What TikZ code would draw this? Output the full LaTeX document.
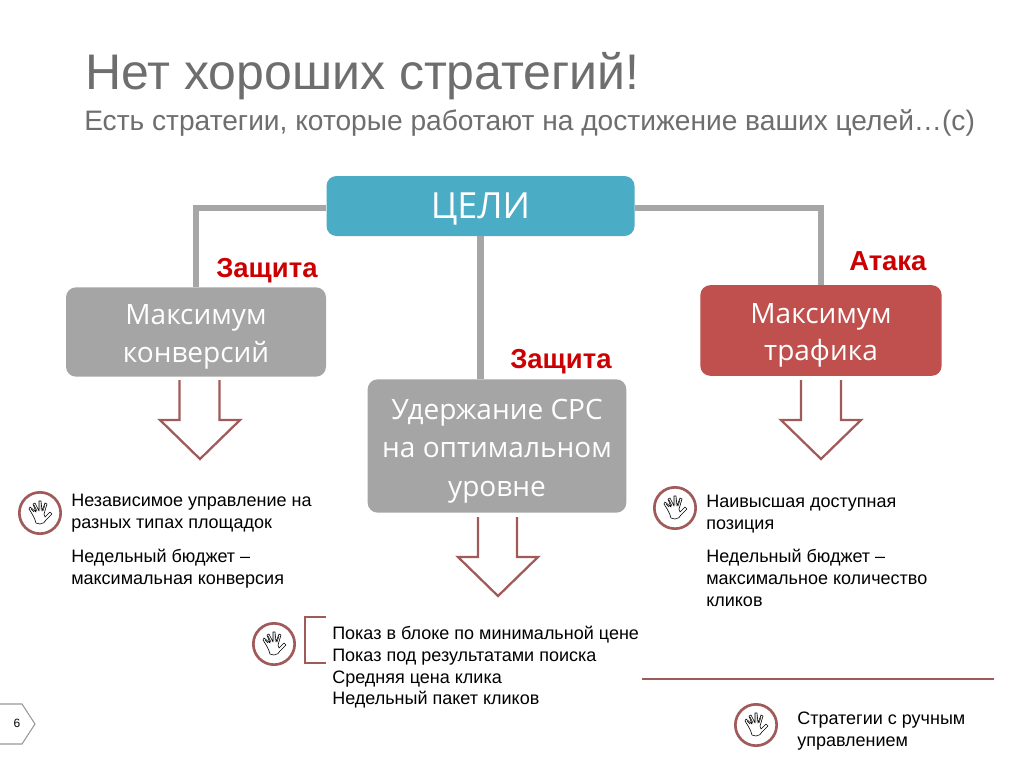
\documentclass[tikz,border=0pt]{standalone}
\usepackage{fontspec}
\setmainfont{Liberation Sans}
\newfontfamily\boxfont{Open Sans}
\definecolor{hd}{HTML}{6E6E6E}
\definecolor{blu}{HTML}{4BACC6}
\definecolor{redb}{HTML}{C0504D}
\definecolor{gry}{HTML}{A5A5A5}
\definecolor{lnk}{HTML}{A6A6A6}
\definecolor{mar}{HTML}{A05A5A}
\newcommand{\lowertext}[1]{\raisebox{-3pt}[\height][\depth]{\begin{tabular}{@{}c@{}}#1\end{tabular}}}
\tikzset{
 x=0.75pt,y=-0.75pt,
 goal/.style={rounded corners=7.5pt,inner sep=0,align=center,text=white,font=\boxfont\fontsize{21}{28}\selectfont},
 link/.style={draw=lnk,line width=5.2pt},
 tag/.style={text=red!80!black,font=\bfseries\fontsize{20.6}{24}\selectfont,inner sep=0},
 body/.style={anchor=north west,align=left,inner sep=0,font=\fontsize{13.5}{16.3}\selectfont,text=black},
 ring/.style={circle,draw=mar,line width=2pt,minimum size=31pt,inner sep=0,fill=white},
 downarrow/.style={draw=mar,line width=1.7pt,fill=white,line join=miter},
 pics/handicon/.style={code={
  \draw[black,line width=0.45pt,line join=round,line cap=round]
   (-4,10) .. controls (-5,6) and (-7,2) .. (-11,-4) -- (-10,-6) -- (-4,-1)
   -- (-7,-9) -- (-5,-10) -- (-1,-2) -- (-1,-12) -- (1,-12) -- (2,-2) -- (5,-10) -- (7,-9) -- (4,1)
   -- (5,4) -- (10,-1) -- (12,1) -- (6,7) .. controls (5,9) and (3,11) .. (0,11) -- cycle;
  \draw[black,line width=0.35pt,line cap=round] (-9,-4)--(-6,-1) (-6,-8)--(-3,-2) (0,-10)--(0,-3) (5,-8)--(3,-2);
 }}
}
\begin{document}
\begin{tikzpicture}
\useasboundingbox (0,0) rectangle (1024,768);
\fill[white] (0,0) rectangle (1024,768);
% titles
\node[anchor=west,inner sep=0,text=hd,font=\fontsize{37.5}{40}\selectfont] (title) at (85,76) {Нет хороших стратегий!};
\node[anchor=west,inner sep=0,text=hd,font=\fontsize{21.1}{24}\selectfont] (sub) at (84,123) {Есть стратегии, которые работают на достижение ваших целей…(с)};
% boxes
\node[goal,fill=blu,minimum width=231pt,minimum height=45pt] (goals) at (480.5,206) {\fontsize{27}{30}\selectfont\lowertext{ЦЕЛИ}};
\node[goal,fill=gry,minimum width=195pt,minimum height=67pt] (conv) at (196,332) {\lowertext{Максимум\\конверсий}};
\node[goal,fill=redb,minimum width=181pt,minimum height=68pt] (traf) at (821,330.5) {\lowertext{Максимум\\трафика}};
\node[goal,fill=gry,minimum width=194pt,minimum height=100pt] (cpc) at (497,446) {\fontsize{21}{29}\selectfont\lowertext{Удержание СРС\\на оптимальном\\уровне}};
% links
\draw[link] (conv.north) |- ([yshift=-1.5pt]goals.west);
\draw[link] (traf.north) |- ([yshift=-1.5pt]goals.east);
\draw[link] (goals.south -| 480.5,0) -- (cpc.north -| 480.5,0);
% labels
\node[tag,anchor=west] (t1) at (216,271) {Защита};
\node[tag,anchor=west] (t2) at (849,261) {Атака};
\node[tag,anchor=west] (t3) at (510,362) {Защита};
% arrows
\draw[downarrow] (179.5,380) -- (179.5,420) -- (160,420) -- (200,459) -- (240,420) -- (219.5,420) -- (219.5,380);
\draw[downarrow] (478,517) -- (478,557) -- (458,557) -- (498,596) -- (538,557) -- (517,557) -- (517,517);
\draw[downarrow] (801,380) -- (801,420) -- (781,420) -- (821,459) -- (861,420) -- (841,420) -- (841,380);
% rings
\node[ring] (h1) at (40,513) {}; \pic at (h1) {handicon};
\node[ring] (h2) at (274,644) {}; \pic at (h2) {handicon};
\node[ring] (h3) at (675,508) {}; \pic at (h3) {handicon};
\node[ring] (h4) at (756,725) {}; \pic at (h4) {handicon};
% texts
\node[body] (b1) at (71,494) {Независимое управление на\\разных типах площадок};
\node[body] (b2) at (71,549) {Недельный бюджет --\\максимальная конверсия};
\node[body] (b3) at (706,495) {Наивысшая доступная\\позиция};
\node[body] (b4) at (706,549) {Недельный бюджет --\\максимальное количество\\кликов};
\node[body] (b5) at (332,626) {Показ в блоке по минимальной цене\\Показ под результатами поиска\\Средняя цена клика\\Недельный пакет кликов};
\node[body] (b6) at (797,712) {Стратегии с ручным\\управлением};
% bracket and rule
\coordinate (bra) at (326,617); \coordinate (brb) at (326,663);
\draw[draw=mar,line width=1.7pt] (bra) -- (305,617) -- (305,663) -- (brb);
\coordinate (ra) at (642,679); \coordinate (rb) at (994,679);
\draw[draw=mar,line width=1.9pt] (ra) -- (rb);
% page tag
\coordinate (pa) at (0,704); \coordinate (pb) at (0,744);
\draw[draw=gray!80,line width=0.8pt] (pa) -- (22,704) -- (35,724) -- (22,744) -- (pb);
\node[inner sep=0,font=\fontsize{9}{10}\selectfont] (page) at (17,723.5) {6};
\end{tikzpicture}
\end{document}
